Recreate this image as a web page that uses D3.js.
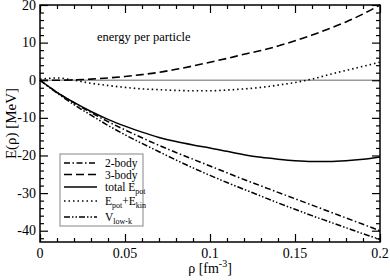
<!DOCTYPE html>
<html>
<head>
<meta charset="utf-8">
<script src="https://cdn.jsdelivr.net/npm/d3@7"></script>
<style>
  body { margin: 0; background: #fff; }
  text, tspan { font-family: "Liberation Serif", "DejaVu Serif", "Times New Roman", serif; }
</style>
</head>
<body>
<div id="chart"></div>
<script>
// density grid (fm^-3)
const rho = [0, 0.01, 0.02, 0.03, 0.04, 0.05, 0.06, 0.07, 0.08, 0.09, 0.10,
             0.11, 0.12, 0.13, 0.14, 0.15, 0.16, 0.17, 0.18, 0.19, 0.20];

// energies per particle (MeV)
const twoBody  = [0, -3.2, -6.0, -8.6, -11.0, -13.2, -15.3, -17.3, -19.2, -21.0, -22.8,
                  -24.6, -26.4, -28.1, -29.8, -31.5, -33.2, -34.9, -36.6, -38.3, -40.0];
const threeBody = [0, 0.0, 0.1, 0.3, 0.6, 1.0, 1.5, 2.1, 2.9, 3.8, 4.8,
                   5.8, 6.9, 7.9, 9.1, 10.5, 12.0, 13.7, 15.5, 17.6, 20.0];
const totalPot = [0, -3.2, -5.9, -8.3, -10.4, -12.2, -13.8, -15.2, -16.3, -17.2, -18.0,
                  -18.9, -19.8, -20.5, -21.0, -21.4, -21.6, -21.6, -21.4, -21.0, -20.4];
const potKin   = [0.3, 0.6, 0.0, -0.8, -1.4, -1.9, -2.3, -2.5, -2.7, -2.8, -2.8,
                  -2.6, -2.3, -1.9, -1.3, -0.6, 0.3, 1.5, 2.6, 3.7, 4.8];
const vlowk    = [0, -3.4, -6.5, -9.3, -12.0, -14.5, -16.8, -19.0, -21.2, -23.3, -25.3,
                  -27.2, -29.0, -30.8, -32.6, -34.3, -36.0, -37.6, -39.2, -40.8, -42.3];

const xTicks = [0, 0.05, 0.1, 0.15, 0.2];
const xTickLabels = ["0", "0.05", "0.1", "0.15", "0.2"];
const yTicks = [-40, -30, -20, -10, 0, 10, 20];

const series = [
  {name: "2-body",  vals: twoBody,   dash: "6,2.5,1.5,2.5", width: 1.5},
  {name: "3-body",  vals: threeBody, dash: "8,4",           width: 1.6},
  {name: "total",   vals: totalPot,  dash: null,            width: 1.5},
  {name: "potkin",  vals: potKin,    dash: "1.5,3",         width: 1.6},
  {name: "vlowk",   vals: vlowk,     dash: "6,2,1.5,2,1.5,2", width: 1.5}
];

var width = 390, height = 280;
var margin = {top: 5, right: 10, bottom: 38, left: 40};

var svg = d3.select("#chart").append("svg")
    .attr("width", width)
    .attr("height", height);

var x = d3.scaleLinear().domain([0, 0.2]).range([margin.left, width - margin.right]);
var y = d3.scaleLinear().domain([-43, 20]).range([height - margin.bottom, margin.top]);

// zero line
svg.append("line")
  .attr("x1", x(0)).attr("x2", x(0.2))
  .attr("y1", y(0)).attr("y2", y(0))
  .style("stroke", "#999").style("stroke-width", 1.5);

// curves
var line = d3.line()
  .x((d, i) => x(rho[i]))
  .y(d => y(d))
  .curve(d3.curveMonotoneX);

svg.selectAll(".curve")
  .data(series)
  .enter().append("path")
    .attr("class", "curve")
    .attr("d", d => line(d.vals))
    .style("fill", "none")
    .style("stroke", "#000")
    .style("stroke-width", d => d.width)
    .style("stroke-dasharray", d => d.dash);

// axes with inward ticks on all four sides
const xMinor = d3.range(0, 0.2001, 0.01).filter(v => Math.abs(v * 20 - Math.round(v * 20)) > 1e-6);
const yMinor = d3.range(-42, 20.01, 2).filter(v => v % 10 !== 0);

function ticks(axisGen, tr, vals, len) {
  svg.append("g").attr("transform", tr)
    .call(axisGen.tickValues(vals).tickSize(len).tickFormat(""))
    .call(g => g.select(".domain").remove())
    .call(g => g.selectAll("line").style("stroke-width", 1.2));
}
var bottomY = y(-43), topY = y(20), leftX = x(0), rightX = x(0.2);
ticks(d3.axisTop(x), `translate(0,${bottomY})`, xTicks, 8);
ticks(d3.axisTop(x), `translate(0,${bottomY})`, xMinor, 4);
ticks(d3.axisBottom(x), `translate(0,${topY})`, xTicks, 8);
ticks(d3.axisBottom(x), `translate(0,${topY})`, xMinor, 4);
ticks(d3.axisRight(y), `translate(${leftX},0)`, yTicks, 8);
ticks(d3.axisRight(y), `translate(${leftX},0)`, yMinor, 4);
ticks(d3.axisLeft(y), `translate(${rightX},0)`, yTicks, 8);
ticks(d3.axisLeft(y), `translate(${rightX},0)`, yMinor, 4);

// frame
svg.append("rect")
  .attr("x", leftX).attr("y", topY)
  .attr("width", rightX - leftX).attr("height", bottomY - topY)
  .style("fill", "none").style("stroke", "#000").style("stroke-width", 1.5);

// tick labels
svg.selectAll(".xl").data(xTicks).enter().append("text")
  .attr("x", d => x(d)).attr("y", bottomY + 16)
  .attr("text-anchor", "middle").style("font-size", "14px")
  .text((d, i) => xTickLabels[i]);

svg.selectAll(".yl").data(yTicks).enter().append("text")
  .attr("x", leftX - 4).attr("y", d => y(d) + 4.5)
  .attr("text-anchor", "end").style("font-size", "14px")
  .text(d => d);

// axis titles
var xt = svg.append("text")
  .attr("x", x(0.1)).attr("y", 273)
  .attr("text-anchor", "middle").style("font-size", "14px");
xt.append("tspan").text("ρ  [fm");
xt.append("tspan").attr("dy", -6).style("font-size", "10px").text("-3");
xt.append("tspan").attr("dy", 6).text("]");

svg.append("text")
  .attr("transform", `translate(16,${(topY + bottomY) / 2}) rotate(-90)`)
  .attr("text-anchor", "middle").style("font-size", "15px")
  .text("E(ρ)  [MeV]");

svg.append("text")
  .attr("x", 97).attr("y", 41)
  .style("font-size", "12.5px")
  .text("energy per particle");

// legend
var lg = svg.append("g");
lg.append("rect")
  .attr("x", 60).attr("y", 154).attr("width", 83).attr("height", 72)
  .style("fill", "#fff").style("stroke", "#999").style("stroke-width", 1.2);

const legendRows = [
  {s: series[0], y: 163, label: [["2-body"]]},
  {s: series[1], y: 174.5, label: [["3-body"]]},
  {s: series[2], y: 187, label: [["total E"], ["pot", "sub"]]},
  {s: series[3], y: 201, label: [["E"], ["pot", "sub"], ["+E"], ["kin", "sub"]]},
  {s: series[4], y: 217, label: [["V"], ["low-k", "sub"]]}
];

legendRows.forEach(r => {
  lg.append("line")
    .attr("x1", 64).attr("x2", 97).attr("y1", r.y).attr("y2", r.y)
    .style("stroke", "#000").style("stroke-width", r.s.width)
    .style("stroke-dasharray", r.s.dash);
  var t = lg.append("text").attr("x", 105).attr("y", r.y + 4)
    .attr("fill", "#000").style("font-size", "11.5px");
  var prevSub = false;
  r.label.forEach(p => {
    var sub = p[1] === "sub";
    var dy = sub && !prevSub ? 3 : (!sub && prevSub ? -3 : 0);
    t.append("tspan").attr("dy", dy).attr("fill", "#000")
      .style("font-size", sub ? "8px" : "11.5px").text(p[0]);
    prevSub = sub;
  });
});
</script>
</body>
</html>
